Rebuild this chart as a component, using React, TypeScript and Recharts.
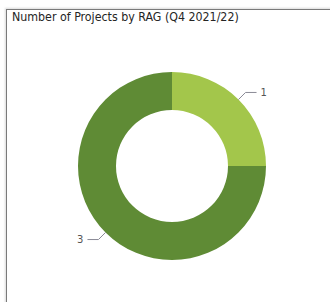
import { PieChart, Pie, Cell } from 'recharts';

const ragNames = ['Green (light)', 'Green'];
const ragCounts = [1, 3];
const ragColors = ['#a3c64b', '#5f8b35'];

const title = 'Number of Projects by RAG (Q4 2021/22)';

const data = ragNames.map((name, i) => ({ name, value: ragCounts[i] }));

const RADIAN = Math.PI / 180;

// leader line: short diagonal out of the ring, then a horizontal tail
function renderLabel(props: any) {
  const { cx, cy, midAngle, outerRadius, value } = props;
  const cos = Math.cos(-midAngle * RADIAN);
  const sin = Math.sin(-midAngle * RADIAN);
  const sx = cx + outerRadius * cos;
  const sy = cy + outerRadius * sin;
  const mx = cx + (outerRadius + 10) * cos;
  const my = cy + (outerRadius + 10) * sin;
  const right = cos >= 0;
  const ex = mx + (right ? 11 : -11);
  return (
    <g>
      <path
        d={`M${sx},${sy}L${mx},${my}L${ex},${my}`}
        stroke="#8a8a96"
        strokeWidth={1}
        fill="none"
      />
      <text
        x={ex + (right ? 4 : -4)}
        y={my}
        textAnchor={right ? 'start' : 'end'}
        dominantBaseline="central"
        fill="#555"
        fontSize={10}
        fontFamily="'DejaVu Sans', sans-serif"
      >
        {value}
      </text>
    </g>
  );
}

export default function App() {
  return (
    <div
      style={{
        position: 'absolute',
        left: 0,
        top: 0,
        width: 330,
        height: 302,
        background: '#fff',
        overflow: 'hidden',
      }}
    >
      <div
        style={{
          position: 'absolute',
          left: 6,
          top: 9,
          width: 340,
          height: 310,
          borderTop: '1px solid #7a7a7a',
          borderLeft: '1px solid #7a7a7a',
          boxShadow: '-1px -1px 2px rgba(0,0,0,0.15)',
        }}
      />
      <div
        style={{
          position: 'absolute',
          left: 12,
          top: 10,
          fontFamily: "'DejaVu Sans Condensed', 'DejaVu Sans', sans-serif",
          fontSize: 12.3,
          color: '#252525',
          whiteSpace: 'nowrap',
        }}
      >
        {title}
      </div>
      <div style={{ position: 'absolute', left: 0, top: 0 }}>
        <PieChart
          width={330}
          height={302}
          margin={{ top: 0, right: 0, bottom: 0, left: 0 }}
        >
          <Pie
            data={data}
            dataKey="value"
            nameKey="name"
            cx={172}
            cy={166}
            innerRadius={56}
            outerRadius={94}
            startAngle={90}
            endAngle={-270}
            stroke="none"
            label={renderLabel}
            labelLine={false}
            isAnimationActive={false}
          >
            {data.map((d, i) => (
              <Cell key={d.name} fill={ragColors[i]} />
            ))}
          </Pie>
        </PieChart>
      </div>
    </div>
  );
}
